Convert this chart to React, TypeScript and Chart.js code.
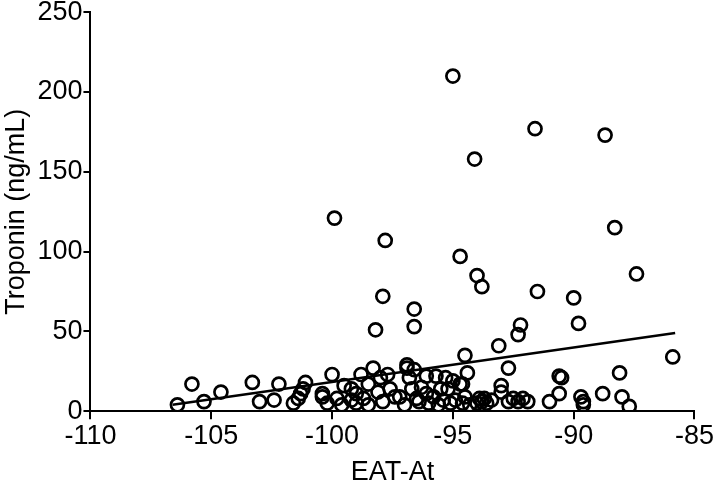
import React, { useEffect, useRef } from "react";
import { Chart, registerables } from "chart.js";

Chart.register(...registerables);

const eatAt: number[] = [
  -106.4, -105.8, -105.3, -104.6, -103.3, -103.0, -102.4, -102.2, -101.6, -101.4,
  -101.3, -101.2, -101.1, -100.4, -100.4, -100.2, -100.0, -99.9, -99.8, -99.6,
  -99.5, -99.2, -99.2, -99.0, -99.0, -98.8, -98.7, -98.5, -98.5, -98.3,
  -98.2, -98.0, -98.1, -97.9, -97.9, -97.8, -97.7, -97.6, -97.4, -97.2,
  -96.9, -96.9, -96.8, -96.7, -96.6, -96.6, -96.6, -96.5, -96.4, -96.1,
  -96.1, -96.0, -95.7, -95.5, -95.4, -95.3, -95.2, -95.0, -95.0, -94.9,
  -94.7, -94.7, -94.6, -94.6, -94.5, -94.4, -94.5, -94.1, -94.0, -93.9,
  -93.8, -93.8, -93.6, -93.4, -93.1, -93.0, -93.0, -92.7, -92.7, -92.5,
  -92.3, -92.3, -92.2, -92.1, -91.9, -91.6, -91.5, -91.0, -90.6, -90.6,
  -90.5, -90.0, -89.8, -89.7, -89.6, -89.6, -88.8, -88.7, -88.3, -88.1,
  -88.0, -87.7, -87.4, -85.9, -97.0, -96.3, -95.8, -95.6, -95.1, -94.3,
  -94.0, -93.7,
];

const troponin: number[] = [
  4, 17, 6, 12, 18, 6, 7, 17, 5, 8,
  11, 14, 18, 9, 11, 5, 23, 121, 8, 4,
  16, 14, 7, 11, 5, 23, 8, 17, 4, 27,
  51, 21, 12, 6, 72, 107, 23, 14, 9, 9,
  29, 27, 21, 14, 26, 64, 53, 8, 6, 11,
  22, 5, 22, 14, 7, 21, 14, 210, 19, 7,
  17, 97, 17, 5, 35, 24, 9, 158, 85, 8,
  78, 6, 5, 7, 41, 16, 12, 27, 6, 8,
  6, 48, 54, 8, 6, 177, 75, 6, 11, 22,
  21, 71, 55, 9, 6, 4, 11, 173, 115, 24,
  9, 3, 86, 34, 4, 15, 9, 4, 5, 4,
  5, 8,
];

const fitX: number[] = [-106.6, -85.8];
const fitY: number[] = [4, 49];

const xTicks: number[] = [-110, -105, -100, -95, -90, -85];
const yTicks: number[] = [0, 50, 100, 150, 200, 250];

export default function App() {
  const ref = useRef<HTMLCanvasElement | null>(null);

  useEffect(() => {
    document.body.style.margin = "0";
    if (!ref.current) return;
    const font = { family: "'Liberation Sans', Arial, sans-serif", size: 27 };
    const chart = new Chart(ref.current, {
      type: "scatter",
      data: {
        datasets: [
          {
            type: "scatter",
            data: eatAt.map((x, i) => ({ x, y: troponin[i] })),
            pointStyle: "circle",
            pointRadius: 6.5,
            borderWidth: 2.7,
            borderColor: "#000",
            backgroundColor: "rgba(0,0,0,0)",
          },
          {
            type: "line",
            data: fitX.map((x, i) => ({ x, y: fitY[i] })),
            showLine: true,
            pointRadius: 0,
            borderWidth: 2.5,
            borderColor: "#000",
            fill: false,
          },
        ],
      },
      options: {
        animation: false,
        responsive: false,
        maintainAspectRatio: false,
        layout: { padding: { top: 0, right: 0, left: 0, bottom: 1 } },
        plugins: { legend: { display: false }, tooltip: { enabled: false } },
        scales: {
          x: {
            type: "linear",
            min: -110,
            max: -85,
            afterBuildTicks: (axis: any) => {
              axis.ticks = xTicks.map((v) => ({ value: v }));
            },
            grid: {
              drawOnChartArea: false,
              drawTicks: true,
              tickLength: 8,
              color: "#000",
              lineWidth: 2,
            },
            border: { display: true, color: "#000", width: 2 },
            ticks: { color: "#000", font, padding: 1, maxRotation: 0 },
            title: {
              display: true,
              text: "EAT-At",
              color: "#000",
              font,
              padding: { top: 3, bottom: 0 },
            },
          },
          y: {
            type: "linear",
            min: 0,
            max: 250,
            afterBuildTicks: (axis: any) => {
              axis.ticks = yTicks.map((v) => ({ value: v }));
            },
            grid: {
              drawOnChartArea: false,
              drawTicks: true,
              tickLength: 7,
              color: "#000",
              lineWidth: 2,
            },
            border: { display: true, color: "#000", width: 2 },
            ticks: { color: "#000", font, padding: 1 },
            title: {
              display: true,
              text: "Troponin (ng/mL)",
              color: "#000",
              font,
              padding: { top: 0, bottom: 4 },
            },
          },
        },
      },
    } as any);
    return () => chart.destroy();
  }, []);

  return (
    <div style={{ width: 715, height: 490, overflow: "hidden" }}>
      <canvas
        ref={ref}
        width={715}
        height={495}
        style={{ display: "block", marginTop: -5 }}
      />
    </div>
  );
}
